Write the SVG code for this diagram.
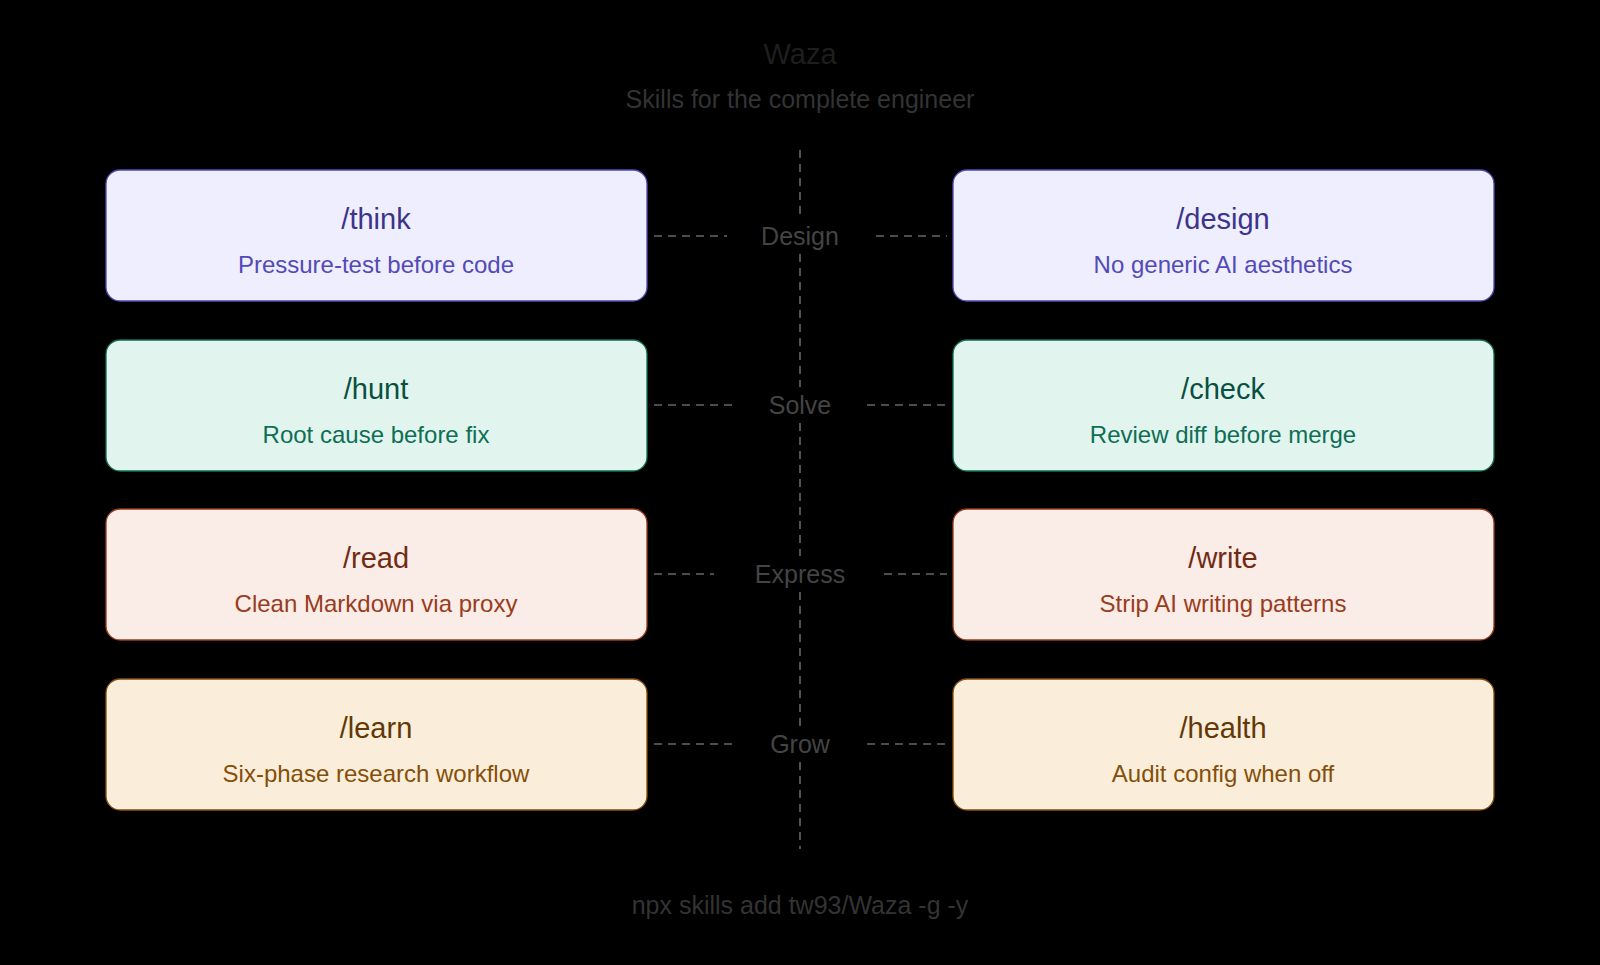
<svg xmlns="http://www.w3.org/2000/svg" width="1600" height="965" viewBox="0 0 1600 965">
<style>
text{font-family:"Liberation Sans",Arial,sans-serif;text-anchor:middle;dominant-baseline:central}
.t{font-size:29px}.s{font-size:24px}.lab{font-size:25px;fill:#444}
.dash{stroke:#666;stroke-width:1.6;stroke-dasharray:8 6;fill:none}
.p rect{fill:#EEEEFE;stroke:#534AB7}.p .t{fill:#3C3489}.p .s{fill:#534AB7}
.g rect{fill:#E1F5EE;stroke:#0F6E56}.g .t{fill:#085041}.g .s{fill:#0F6E56}
.c rect{fill:#FAECE7;stroke:#993C1D}.c .t{fill:#712B13}.c .s{fill:#993C1D}
.a rect{fill:#FAEEDA;stroke:#854F0B}.a .t{fill:#633806}.a .s{fill:#854F0B}
rect{stroke-width:1.3}
</style>
<rect width="1600" height="965" fill="#000"/>
<text x="800" y="54" font-size="29" fill="#1e1e1e">Waza</text>
<text x="800" y="99" font-size="25" fill="#333">Skills for the complete engineer</text>
<g id="connectors">
<line class="dash" x1="800" y1="150" x2="800" y2="218"/>
<line class="dash" x1="800" y1="254" x2="800" y2="387"/>
<line class="dash" x1="800" y1="423" x2="800" y2="556"/>
<line class="dash" x1="800" y1="592" x2="800" y2="726"/>
<line class="dash" x1="800" y1="762" x2="800" y2="849"/>
<line class="dash" x1="654" y1="236" x2="727" y2="236"/><line class="dash" x1="876" y1="236" x2="947" y2="236"/>
<line class="dash" x1="654" y1="405" x2="733" y2="405"/><line class="dash" x1="867" y1="405" x2="947" y2="405"/>
<line class="dash" x1="654" y1="574" x2="714" y2="574"/><line class="dash" x1="884" y1="574" x2="947" y2="574"/>
<line class="dash" x1="654" y1="744" x2="733" y2="744"/><line class="dash" x1="867" y1="744" x2="947" y2="744"/>
</g>
<text class="lab" x="800" y="236">Design</text>
<text class="lab" x="800" y="405">Solve</text>
<text class="lab" x="800" y="574">Express</text>
<text class="lab" x="800" y="744">Grow</text>
<g id="think" class="p"><rect x="106" y="170" width="541" height="131" rx="14"/><text class="t" x="376" y="219">/think</text><text class="s" x="376" y="264">Pressure-test before code</text></g>
<g id="design" class="p"><rect x="953" y="170" width="541" height="131" rx="14"/><text class="t" x="1223" y="219">/design</text><text class="s" x="1223" y="264">No generic AI aesthetics</text></g>
<g id="hunt" class="g"><rect x="106" y="340" width="541" height="131" rx="14"/><text class="t" x="376" y="389">/hunt</text><text class="s" x="376" y="434">Root cause before fix</text></g>
<g id="check" class="g"><rect x="953" y="340" width="541" height="131" rx="14"/><text class="t" x="1223" y="389">/check</text><text class="s" x="1223" y="434">Review diff before merge</text></g>
<g id="read" class="c"><rect x="106" y="509" width="541" height="131" rx="14"/><text class="t" x="376" y="558">/read</text><text class="s" x="376" y="603">Clean Markdown via proxy</text></g>
<g id="write" class="c"><rect x="953" y="509" width="541" height="131" rx="14"/><text class="t" x="1223" y="558">/write</text><text class="s" x="1223" y="603">Strip AI writing patterns</text></g>
<g id="learn" class="a"><rect x="106" y="679" width="541" height="131" rx="14"/><text class="t" x="376" y="728">/learn</text><text class="s" x="376" y="773">Six-phase research workflow</text></g>
<g id="health" class="a"><rect x="953" y="679" width="541" height="131" rx="14"/><text class="t" x="1223" y="728">/health</text><text class="s" x="1223" y="773">Audit config when off</text></g>
<text x="800" y="905" font-size="25" fill="#333">npx skills add tw93/Waza -g -y</text>
</svg>
